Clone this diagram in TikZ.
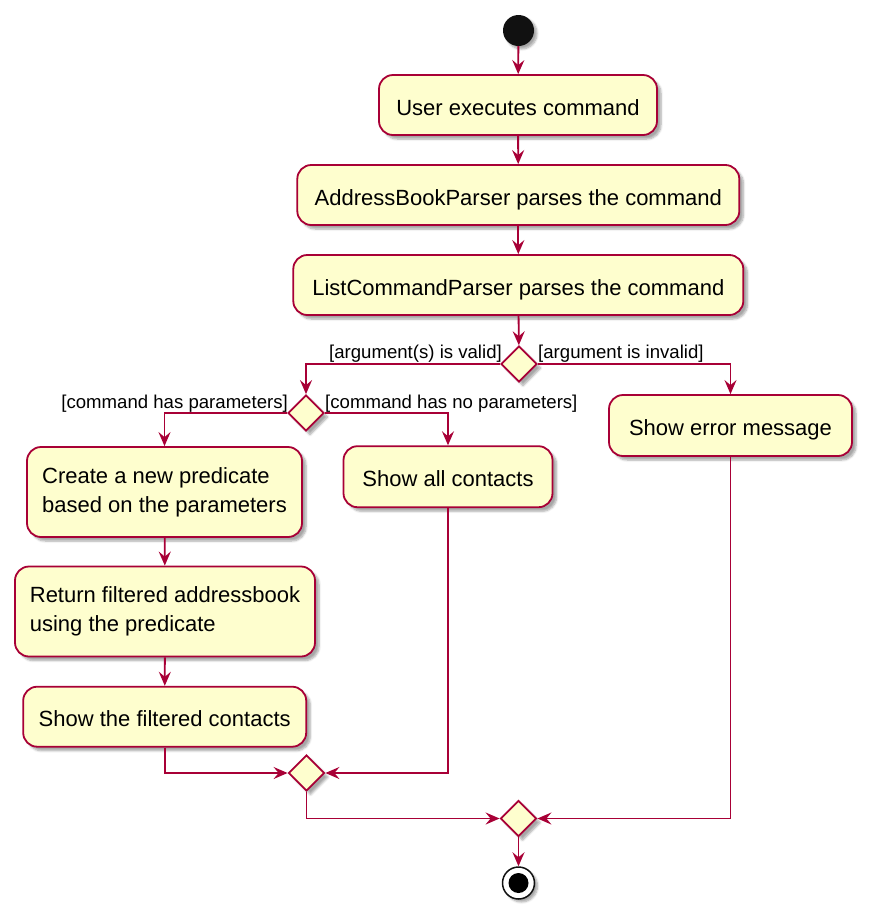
\documentclass[tikz,border=0pt]{standalone}
\usepackage{fontspec}
\setmainfont{Liberation Sans}
\usetikzlibrary{arrows.meta,shapes.geometric,shadows.blur}
\definecolor{umlfill}{HTML}{FEFECE}
\definecolor{umlline}{HTML}{A80036}
\definecolor{umldark}{HTML}{111111}
\tikzset{
  act/.style={draw=umlline,fill=umlfill,line width=1.8pt,rounded corners=14pt,
    inner sep=0pt,align=left,font=\fontsize{22}{29}\selectfont,
    blur shadow={shadow xshift=4pt,shadow yshift=-4pt,shadow blur steps=6,shadow opacity=35}},
  oneline/.style={text height=20pt,text depth=0pt},
  twoline/.style={text height=19pt,text depth=35pt},
  dec/.style={diamond,draw=umlline,fill=umlfill,line width=1.8pt,inner sep=0pt,
    minimum width=36pt,minimum height=36pt,
    blur shadow={shadow xshift=4pt,shadow yshift=-4pt,shadow blur steps=6,shadow opacity=35}},
  flow/.style={draw=umlline,line width=1.8pt,-{Stealth[length=14pt,width=12pt,inset=5pt]}},
  lbl/.style={inner sep=0pt,font=\fontsize{18.6}{22}\selectfont},
}
\begin{document}
\begin{tikzpicture}[x=1pt,y=-1pt]
\useasboundingbox (0,0) rectangle (876,922);
\node[circle,fill=umldark,minimum size=31pt,inner sep=0pt,
  blur shadow={shadow xshift=3pt,shadow yshift=-3pt,shadow blur steps=6,shadow opacity=35}] (start) at (518.5,30.5) {};
\node[act,oneline,minimum width=278pt,minimum height=60pt] (b1) at (518,105) {User executes command};
\node[act,oneline,minimum width=442pt,minimum height=60pt] (b2) at (518.3,195) {AddressBookParser parses the command};
\node[act,oneline,minimum width=450pt,minimum height=60pt] (b3) at (518.3,285) {ListCommandParser parses the command};
\node[dec] (d1) at (519,364) {};
\node[dec] (d2) at (306,413) {};
\node[act,oneline,minimum width=243pt,minimum height=61pt] (err) at (730.5,425.5) {Show error message};
\node[act,oneline,minimum width=209pt,minimum height=61pt] (all) at (448,476.7) {Show all contacts};
\node[act,minimum width=275pt,minimum height=90pt] (pred) at (164.5,492) {Create a new predicate\\based on the parameters};
\node[act,minimum width=300pt,minimum height=90pt] (ret) at (165,611.5) {Return filtered addressbook\\using the predicate};
\node[act,oneline,minimum width=283pt,minimum height=60pt] (filt) at (164.7,716.7) {Show the filtered contacts};
\node[dec] (d3) at (306.5,773) {};
\node[dec] (d4) at (518.5,818.5) {};
\node[circle,draw=umldark,fill=white,line width=1.5pt,minimum size=32pt,inner sep=0pt,
  blur shadow={shadow xshift=3pt,shadow yshift=-3pt,shadow blur steps=6,shadow opacity=35}] (stop) at (518.5,883) {};
\node[circle,fill=black,minimum size=20pt,inner sep=0pt] (stopin) at (stop) {};

\draw[flow] (start) -- (b1);
\draw[flow] (b1) -- (b2);
\draw[flow] (b2) -- (b3);
\draw[flow] (b3) -- (d1);
\draw[flow] (d1.west) -| (d2.north);
\draw[flow] (d1.east) -| (err.north);
\draw[flow] (d2.west) -| (pred.north);
\draw[flow] (d2.east) -| (all.north);
\draw[flow] (pred) -- (ret);
\draw[flow] (ret) -- (filt);
\draw[flow] (filt.south) |- (d3.west);
\draw[flow] (all.south) |- (d3.east);
\draw[flow] (d3.south) |- (d4.west);
\draw[flow] (err.south) |- (d4.east);
\draw[flow] (d4) -- (stop);

\node[lbl,anchor=base east] (l1) at (502,358) {[argument(s) is valid]};
\node[lbl,anchor=base west] (l2) at (538,358) {[argument is invalid]};
\node[lbl,anchor=base east] (l3) at (288,408) {[command has parameters]};
\node[lbl,anchor=base west] (l4) at (325,408) {[command has no parameters]};
\end{tikzpicture}
\end{document}
